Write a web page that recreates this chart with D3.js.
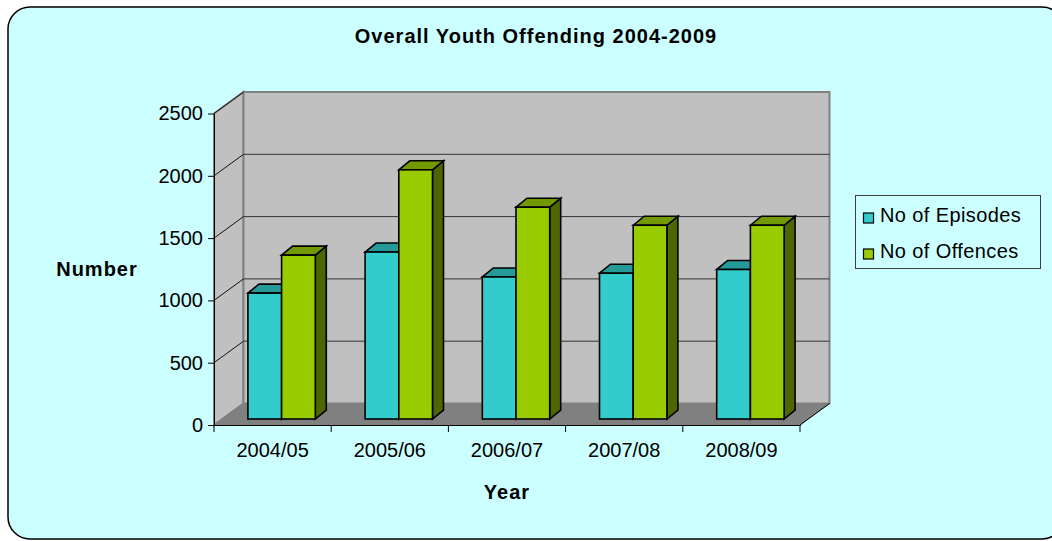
<!DOCTYPE html>
<html>
<head>
<meta charset="utf-8">
<script src="https://cdn.jsdelivr.net/npm/d3@7"></script>
<style>
  html, body { margin: 0; padding: 0; background: #fff; }
  svg { display: block; font-family: "Liberation Sans", Arial, sans-serif; }
</style>
</head>
<body>
<svg id="chart" width="1052" height="541"></svg>
<script>
const categories = ["2004/05", "2005/06", "2006/07", "2007/08", "2008/09"];
const seriesNames = ["No of Episodes", "No of Offences"];
const episodes = [1010, 1340, 1140, 1170, 1200];
const offences = [1315, 2000, 1700, 1555, 1555];
const yTicks = [0, 500, 1000, 1500, 2000, 2500];
const titleText = "Overall Youth Offending 2004-2009";
const xTitle = "Year";
const yTitle = "Number";

const seriesValues = [episodes, offences];
const colors = [
  { front: "#33CCCC", top: "#269999", side: "#1A6666" },
  { front: "#99CC00", top: "#739900", side: "#4D6600" }
];

const svg = d3.select("#chart");

// outer rounded frame
svg.append("rect")
  .attr("x", 8).attr("y", 7).attr("width", 1056).attr("height", 532)
  .attr("rx", 22).attr("ry", 22)
  .attr("fill", "#CCFFFF").attr("stroke", "#000").attr("stroke-width", 1.5);

// scales (front plane)
const x = d3.scaleBand().domain(categories).range([214, 800]);
const y = d3.scaleLinear().domain([0, 2500]).range([425, 113.5]);
const D = { dx: 29.5, dy: -21.5 };   // wall depth
const B = { dx: 9, dy: -6 };         // bar front offset into depth
const BD = { dx: 11, dy: -9 };       // bar depth

const x0 = x.range()[0], x1 = x.range()[1];
const yTop = y(2500), yBot = y(0);

// side wall
svg.append("path")
  .attr("d", `M${x0},${yTop} L${x0 + D.dx},${yTop + D.dy} L${x0 + D.dx},${yBot + D.dy} L${x0},${yBot} Z`)
  .attr("fill", "#C0C0C0").attr("stroke", "#808080").attr("stroke-width", 2);
// back wall
svg.append("rect")
  .attr("x", x0 + D.dx).attr("y", yTop + D.dy)
  .attr("width", x1 - x0).attr("height", yBot - yTop)
  .attr("fill", "#C0C0C0").attr("stroke", "#808080").attr("stroke-width", 2);

// gridlines on back wall + diagonals on side wall
yTicks.filter(t => t > 0 && t < 2500).forEach(t => {
  svg.append("line")
    .attr("x1", x0 + D.dx).attr("x2", x1 + D.dx)
    .attr("y1", y(t) + D.dy).attr("y2", y(t) + D.dy)
    .attr("stroke", "#333").attr("stroke-width", 1);
});
yTicks.filter(t => t > 0).forEach(t => {
  svg.append("line")
    .attr("x1", x0).attr("x2", x0 + D.dx)
    .attr("y1", y(t)).attr("y2", y(t) + D.dy)
    .attr("stroke", "#111").attr("stroke-width", 1);
});

// floor
svg.append("path")
  .attr("d", `M${x0},${yBot} L${x1},${yBot} L${x1 + D.dx},${yBot + D.dy} L${x0 + D.dx},${yBot + D.dy} Z`)
  .attr("fill", "#808080").attr("stroke", "#808080").attr("stroke-width", 1);

// bars
const bw = x.bandwidth() * 0.2875;
const gOff = x.bandwidth() * 0.2125;
const bars = svg.append("g");
categories.forEach((c, ci) => {
  seriesValues.forEach((vals, si) => {
    const v = vals[ci];
    const left = x(c) + gOff + si * bw + B.dx;
    const right = left + bw;
    const top = y(v) + B.dy;
    const base = y(0) + B.dy;
    const col = colors[si];
    const g = bars.append("g").attr("stroke", "#000").attr("stroke-width", 1.6).attr("stroke-linejoin", "miter");
    g.append("path")
      .attr("d", `M${right},${top} L${right + BD.dx},${top + BD.dy} L${right + BD.dx},${base + BD.dy} L${right},${base} Z`)
      .attr("fill", col.side);
    g.append("path")
      .attr("d", `M${left},${top} L${left + BD.dx},${top + BD.dy} L${right + BD.dx},${top + BD.dy} L${right},${top} Z`)
      .attr("fill", col.top);
    g.append("rect")
      .attr("x", left).attr("y", top).attr("width", bw).attr("height", base - top)
      .attr("fill", col.front);
  });
});

// y axis
const yAxis = svg.append("g").attr("transform", `translate(${x0},0)`)
  .call(d3.axisLeft(y).tickValues(yTicks).tickSize(6).tickSizeOuter(0).tickPadding(5).tickFormat(d3.format("d")));
yAxis.select(".domain").attr("stroke", "#000");
yAxis.selectAll(".tick line").attr("stroke", "#000");
yAxis.selectAll("text").attr("font-size", 20).attr("fill", "#000")
  .attr("font-family", "Liberation Sans, Arial, sans-serif");

// x axis
const xAxis = svg.append("g").attr("transform", `translate(0,${yBot})`)
  .call(d3.axisBottom(x).tickSize(0).tickSizeOuter(0).tickPadding(18));
xAxis.select(".domain").attr("stroke", "#000");
xAxis.selectAll("text").attr("font-size", 20).attr("fill", "#000")
  .attr("font-family", "Liberation Sans, Arial, sans-serif");
// category boundary ticks
const bounds = categories.map(c => x(c)).concat([x1]);
xAxis.selectAll(".btick").data(bounds).enter().append("line")
  .attr("class", "btick")
  .attr("x1", d => d).attr("x2", d => d).attr("y1", 0).attr("y2", 7)
  .attr("stroke", "#000");
// right floor edge line
svg.append("line")
  .attr("x1", x1).attr("y1", yBot).attr("x2", x1 + D.dx).attr("y2", yBot + D.dy)
  .attr("stroke", "#000").attr("stroke-width", 1);

// titles
svg.append("text").attr("x", 536).attr("y", 43)
  .attr("text-anchor", "middle").attr("font-size", 20).attr("font-weight", "bold")
  .attr("letter-spacing", 1).text(titleText);
svg.append("text").attr("x", 507).attr("y", 499)
  .attr("text-anchor", "middle").attr("font-size", 20).attr("font-weight", "bold")
  .attr("letter-spacing", 1).text(xTitle);
svg.append("text").attr("x", 97).attr("y", 276)
  .attr("text-anchor", "middle").attr("font-size", 20).attr("font-weight", "bold")
  .attr("letter-spacing", 1).text(yTitle);

// legend
const lg = svg.append("g");
lg.append("rect").attr("x", 855.5).attr("y", 195.5).attr("width", 185).attr("height", 73)
  .attr("fill", "#CCFFFF").attr("stroke", "#404040").attr("stroke-width", 1);
seriesNames.forEach((n, i) => {
  const yy = 213 + i * 36;
  lg.append("rect").attr("x", 863.5).attr("y", yy).attr("width", 10).attr("height", 10)
    .attr("fill", colors[i].front).attr("stroke", "#000").attr("stroke-width", 1.2);
  lg.append("text").attr("x", 880).attr("y", yy + 8.5)
    .attr("font-size", 20).attr("letter-spacing", 0.4).text(n);
});
</script>
</body>
</html>
